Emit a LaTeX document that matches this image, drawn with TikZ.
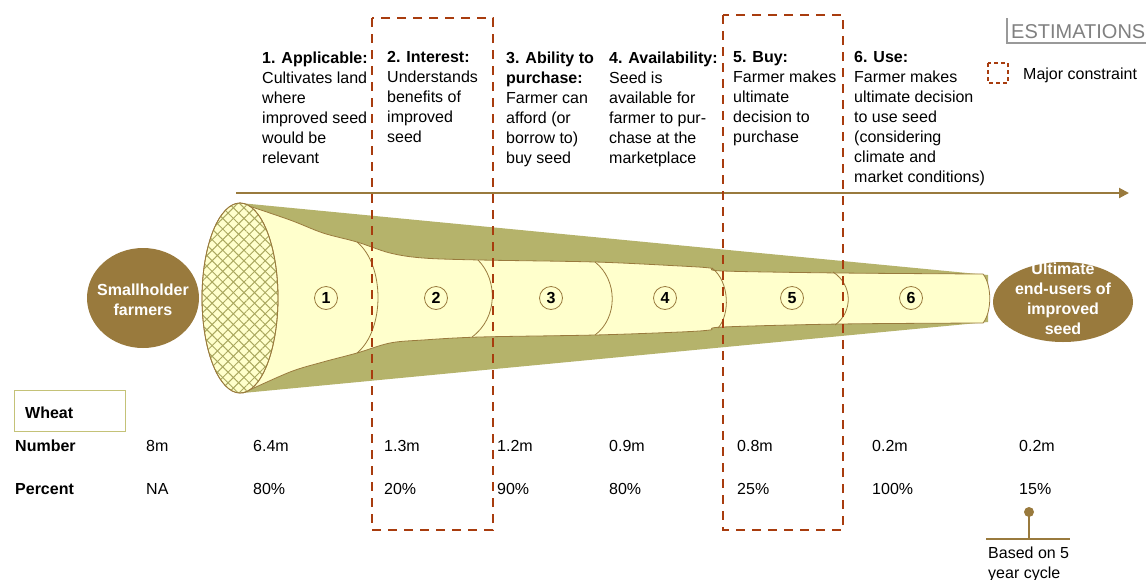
\documentclass[tikz,border=0pt]{standalone}
\usepackage{fontspec}
\setmainfont{Liberation Sans}
\usepackage{tikz}
\usetikzlibrary{arrows.meta}
\usetikzlibrary{patterns.meta}
\definecolor{funnelolive}{RGB}{181,179,107}
\definecolor{hatcholive}{RGB}{170,168,95}
\definecolor{tubeyellow}{RGB}{255,255,204}
\definecolor{earth}{RGB}{153,122,61}
\definecolor{rust}{RGB}{168,60,14}
\definecolor{boxolive}{RGB}{196,194,120}

\begin{document}
\begin{tikzpicture}[x=1pt,y=-1pt,
  every node/.style={inner sep=0pt, font=\fontsize{16}{20}\selectfont},
  steptext/.style={anchor=north west, align=left},
  rowhead/.style={anchor=base west, font=\fontsize{16}{20}\selectfont\bfseries},
  cell/.style={anchor=base west},
  constraint/.style={rust, line width=2.5pt, dash pattern=on 9pt off 7pt},
  stagenum/.style={circle, draw=earth, line width=0.8pt, fill=tubeyellow, minimum size=23pt, font=\fontsize{16}{20}\selectfont\bfseries},
  endlabel/.style={text=white, align=center, font=\fontsize{16}{20}\selectfont\bfseries},
  divider/.style={draw=earth, line width=0.8pt}]
\useasboundingbox (0,0) rectangle (1146,579);

% stage headings
\node[steptext] (applicable) at (262,51.5) {\textbf{1. Applicable:}\\Cultivates land\\where\\improved seed\\would be\\relevant};
\node[steptext] (interest) at (387,51.5) {\textbf{2. Interest:}\\Understands\\benefits of\\improved\\seed};
\node[steptext] (ability) at (506,51.5) {\textbf{3. Ability to}\\\textbf{purchase:}\\Farmer can\\afford (or\\borrow to)\\buy seed};
\node[steptext] (availability) at (609,51.5) {\textbf{4. Availability:}\\Seed is\\available for\\farmer to pur-\\chase at the\\marketplace};
\node[steptext] (buy) at (733,51.5) {\textbf{5. Buy:}\\Farmer makes\\ultimate\\decision to\\purchase};
\node[steptext] (use) at (854,51.5) {\textbf{6. Use:}\\Farmer makes\\ultimate decision\\to use seed\\(considering\\climate and\\market conditions)};

\coordinate (flowstart) at (236,193);
\coordinate (flowend) at (1129,193);
\draw[earth, line width=2pt, -{Triangle[length=10pt,width=10pt]}] (flowstart) -- (flowend);

% funnel
\fill[funnelolive] (240,203) -- (988,275) -- (988,322) -- (243,393) -- cycle;
\filldraw[fill=tubeyellow, draw=earth, line width=0.8pt]
  plot[smooth, tension=0.55] coordinates {(240,203) (290,220) (323,233) (357,242) (390,253) (423,258) (480,260) (595,262) (680,266) (710,268) (723,271) (840,273) (983,274)}
  .. controls (992,285) and (992,312) .. (983,323)
  -- plot[smooth, tension=0.55] coordinates {(983,323) (840,324) (723,327) (710,330) (680,332) (595,335) (480,337) (423,340) (390,343) (357,353) (323,362) (290,372) (243,393)}
  -- cycle;
\draw[divider] (357,242) .. controls (385,265) and (385,330) .. (357,353);
\draw[divider] (478,260) .. controls (498,280) and (498,318) .. (472,337);
\draw[divider] (595,262) .. controls (618,280) and (618,318) .. (595,335);
\draw[divider] (712,268) .. controls (730,282) and (730,315) .. (718,328);
\draw[divider] (833,272) .. controls (853,285) and (853,312) .. (835,325);

\filldraw[fill=tubeyellow, draw=earth, line width=0.8pt] (240,298) ellipse [x radius=38, y radius=95];
\fill[pattern={Lines[angle=45,distance=7.5pt,line width=1pt]}, pattern color=hatcholive] (240,298) ellipse [x radius=38, y radius=95];
\fill[pattern={Lines[angle=-45,distance=7.5pt,line width=1pt]}, pattern color=hatcholive] (240,298) ellipse [x radius=38, y radius=95];
\draw[earth, line width=0.8pt] (240,298) ellipse [x radius=38, y radius=95];

\node[stagenum] (s1) at (326,298) {1};
\node[stagenum] (s2) at (436,298) {2};
\node[stagenum] (s3) at (551,298) {3};
\node[stagenum] (s4) at (665,298) {4};
\node[stagenum] (s5) at (792,298) {5};
\node[stagenum] (s6) at (911,298) {6};

\fill[earth] (143,298) ellipse [x radius=56, y radius=50];
\node[endlabel] (farmers) at (143,300) {Smallholder\\farmers};
\fill[earth] (1063,302) ellipse [x radius=70, y radius=40];
\node[endlabel] (endusers) at (1063,299) {Ultimate\\end-users of\\improved\\seed};

% major constraints
\draw[constraint] (372,18) rectangle (493,530);
\draw[constraint] (723,15) rectangle (843,530);

% legend
\node[anchor=base west, text=gray, font=\fontsize{20}{24}\selectfont] (estimations) at (1011,38) {ESTIMATIONS};
\draw[gray!80, line width=1.5pt] (1007,18) -- (1007,43) -- (1146,43);
\draw[rust, line width=1.5pt, dash pattern=on 4pt off 3pt] (988,63) rectangle (1008,83);
\node[anchor=base west] (legendtext) at (1023,79) {Major constraint};

% table
\draw[boxolive, line width=1pt] (14,390) rectangle (125,431);
\node[rowhead] (wheat) at (25,418) {Wheat};
\node[rowhead] (number) at (15,451) {Number};
\node[rowhead] (percent) at (15,494) {Percent};
\foreach \x/\n/\p in {146/8m/NA, 253/6.4m/80\%, 384/1.3m/20\%, 497/1.2m/90\%, 609/0.9m/80\%, 737/0.8m/25\%, 872/0.2m/100\%, 1019/0.2m/15\%}{
  \node[cell] (n\x) at (\x,451) {\n};
  \node[cell] (p\x) at (\x,494) {\p};
}

\coordinate (cyclemark) at (1029,512);
\coordinate (cyclefoot) at (1029,539);
\fill[earth] (cyclemark) circle (5);
\draw[earth, line width=2pt] (cyclemark) -- (cyclefoot);
\draw[earth, line width=2pt] (986,539) -- (1070,539);
\node[steptext] (cyclenote) at (988,546.5) {Based on 5\\year cycle};
\end{tikzpicture}
\end{document}
